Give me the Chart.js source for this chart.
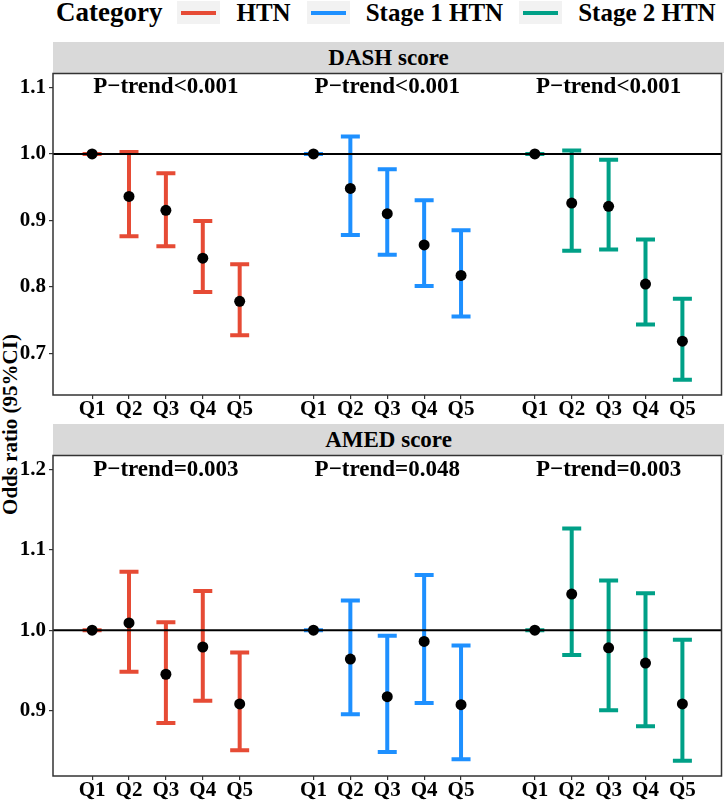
<!DOCTYPE html>
<html>
<head>
<meta charset="utf-8">
<script src="https://cdn.jsdelivr.net/npm/chart.js@4.4.0/dist/chart.umd.min.js"></script>
<style>
  body { margin: 0; background: #fff; }
  #wrap { position: relative; width: 727px; height: 801px; overflow: hidden;
          font-family: 'Liberation Serif', 'Times New Roman', serif; font-weight: bold; color: #000; }
  #legend { position: absolute; left: 56px; top: 0; height: 25px; display: flex; align-items: flex-start; }
  #legend .title { font-size: 27px; line-height: 25px; margin-right: 15px; }
  #legend .key { position: relative; width: 43px; height: 23px; margin-top: 1px; background: #f2f2f2; margin-right: 16px; }
  #legend .key i { position: absolute; left: 4px; right: 4px; top: 9.7px; height: 4px; }
  #legend .lab { font-size: 25px; line-height: 25px; margin-right: 16px; white-space: nowrap; }
  .strip { position: absolute; left: 53px; width: 671px; height: 31px; background: #d9d9d9;
           text-align: center; font-size: 23px; line-height: 31px; }
  #ytitle { position: absolute; width: 300px; height: 21px; left: -140.4px; top: 414px;
            font-size: 21px; line-height: 21px; text-align: center; transform: rotate(-90deg); white-space: nowrap; }
  canvas { position: absolute; left: 0; }
</style>
</head>
<body>
<div id="wrap">
  <div id="legend"><span class="title">Category</span></div>
  <div class="strip" style="top:42px">DASH score</div>
  <div class="strip" style="top:424px">AMED score</div>
  <div id="ytitle">Odds ratio (95%CI)</div>
  <canvas id="dash" width="727" height="355" style="top:68px"></canvas>
  <canvas id="amed" width="727" height="351" style="top:450px"></canvas>
</div>
<script>
// categories
const quintiles = ['Q1', 'Q2', 'Q3', 'Q4', 'Q5'];
const categories = ['HTN', 'Stage 1 HTN', 'Stage 2 HTN'];
const categoryColors = ['#E64B35', '#1E90FF', '#00A087'];

// DASH score: odds ratios and 95% CI, one row per category
const dashOR   = [[1.000, 0.936, 0.915, 0.843, 0.778],
                  [1.000, 0.948, 0.910, 0.863, 0.817],
                  [1.000, 0.926, 0.921, 0.804, 0.718]];
const dashLow  = [[1.000, 0.876, 0.861, 0.792, 0.727],
                  [1.000, 0.878, 0.848, 0.801, 0.755],
                  [1.000, 0.854, 0.856, 0.743, 0.660]];
const dashHigh = [[1.000, 1.003, 0.971, 0.899, 0.834],
                  [1.000, 1.026, 0.977, 0.930, 0.885],
                  [1.000, 1.005, 0.991, 0.871, 0.782]];
const dashTrend = ['P\u2212trend<0.001', 'P\u2212trend<0.001', 'P\u2212trend<0.001'];

// AMED score
const amedOR   = [[1.000, 1.009, 0.945, 0.979, 0.908],
                  [1.000, 0.964, 0.917, 0.986, 0.907],
                  [1.000, 1.045, 0.978, 0.959, 0.908]];
const amedLow  = [[1.000, 0.948, 0.884, 0.912, 0.850],
                  [1.000, 0.895, 0.848, 0.909, 0.839],
                  [1.000, 0.969, 0.900, 0.880, 0.837]];
const amedHigh = [[1.000, 1.073, 1.010, 1.049, 0.972],
                  [1.000, 1.037, 0.993, 1.069, 0.981],
                  [1.000, 1.127, 1.062, 1.046, 0.988]];
const amedTrend = ['P\u2212trend=0.003', 'P\u2212trend=0.048', 'P\u2212trend=0.003'];

// axes
const dashYTicks = [0.7, 0.8, 0.9, 1.0, 1.1];
const amedYTicks = [0.9, 1.0, 1.1, 1.2];
const dashYRange = [0.637, 1.121];
const amedYRange = [0.818, 1.218];
const dashTrendY = 1.1;
const amedTrendY = 1.2;
const refValue = 1.0;
const groupStep = 6;   // 5 quintiles + one empty slot between categories
const xRange = [-0.06, 18.06];

// legend
const legend = document.getElementById('legend');
categories.forEach((cat, i) => {
  const key = document.createElement('span');
  key.className = 'key';
  key.innerHTML = '<i style="background:' + categoryColors[i] + '"></i>';
  const lab = document.createElement('span');
  lab.className = 'lab';
  lab.textContent = cat;
  legend.appendChild(key);
  legend.appendChild(lab);
});

const tickFont = { family: "'Liberation Serif', 'Times New Roman', serif", weight: 'bold', size: 21, lineHeight: 1 };

// error bars, reference line, panel border and P-trend labels
const errorBarPlugin = {
  id: 'errorBars',
  beforeDatasetsDraw(chart, args, opts) {
    const { ctx, chartArea, scales: { x, y } } = chart;
    ctx.save();
    ctx.lineCap = 'butt';
    chart.data.datasets.forEach(ds => {
      ctx.strokeStyle = ds.barColor;
      ctx.lineWidth = 4;
      ds.data.forEach(p => {
        const px = x.getPixelForValue(p.x);
        const top = y.getPixelForValue(p.hi);
        const bot = y.getPixelForValue(p.lo);
        ctx.beginPath();
        ctx.moveTo(px, top); ctx.lineTo(px, bot);
        ctx.moveTo(px - 9.5, top); ctx.lineTo(px + 9.5, top);
        ctx.moveTo(px - 9.5, bot); ctx.lineTo(px + 9.5, bot);
        ctx.stroke();
      });
    });
    const ry = y.getPixelForValue(opts.ref);
    ctx.strokeStyle = '#000';
    ctx.lineWidth = 2;
    ctx.beginPath();
    ctx.moveTo(chartArea.left, ry);
    ctx.lineTo(chartArea.right, ry);
    ctx.stroke();
    ctx.restore();
  },
  afterDraw(chart, args, opts) {
    const { ctx, chartArea, scales: { x, y } } = chart;
    ctx.save();
    ctx.fillStyle = '#000';
    ctx.font = "bold 23px 'Liberation Serif', 'Times New Roman', serif";
    ctx.textAlign = 'center';
    ctx.textBaseline = 'middle';
    opts.trend.forEach((t, g) => {
      ctx.fillText(t, x.getPixelForValue(g * groupStep + 3), y.getPixelForValue(opts.trendY));
    });
    ctx.strokeStyle = '#333';
    ctx.lineWidth = 1.5;
    ctx.strokeRect(chartArea.left, chartArea.top, chartArea.right - chartArea.left, chartArea.bottom - chartArea.top);
    ctx.restore();
  }
};

function makePanel(id, orArr, lowArr, highArr, yTicks, yRange, trend, trendY, xAxisHeight) {
  const datasets = categories.map((cat, g) => ({
    label: cat,
    barColor: categoryColors[g],
    data: quintiles.map((q, i) => ({
      x: g * groupStep + i + 1, y: orArr[g][i], lo: lowArr[g][i], hi: highArr[g][i]
    })),
    backgroundColor: '#000',
    borderWidth: 0,
    pointRadius: 5.5,
    pointHoverRadius: 5.5
  }));
  const xTicks = datasets.flatMap(d => d.data.map(p => p.x));

  new Chart(document.getElementById(id), {
    type: 'scatter',
    data: { datasets },
    options: {
      responsive: false,
      animation: false,
      events: [],
      layout: { padding: { top: 5, right: 3, left: 0, bottom: 0 } },
      plugins: {
        legend: { display: false },
        tooltip: { enabled: false },
        errorBars: { ref: refValue, trend, trendY }
      },
      scales: {
        x: {
          type: 'linear',
          min: xRange[0],
          max: xRange[1],
          afterBuildTicks: s => { s.ticks = xTicks.map(v => ({ value: v })); },
          afterFit: s => { s.height = xAxisHeight; s.paddingLeft = 0; s.paddingRight = 0; },
          ticks: {
            callback: v => quintiles[(v - 1) % groupStep],
            font: tickFont, color: '#000', padding: 0,
            autoSkip: false, maxRotation: 0, minRotation: 0
          },
          grid: { drawOnChartArea: false, drawTicks: true, tickLength: 4, color: '#333', lineWidth: 1.2 },
          border: { display: false }
        },
        y: {
          min: yRange[0],
          max: yRange[1],
          afterBuildTicks: s => { s.ticks = yTicks.map(v => ({ value: v })); },
          afterFit: s => { s.width = 53; s.paddingTop = 0; s.paddingBottom = 0; },
          ticks: {
            callback: v => v.toFixed(1),
            font: tickFont, color: '#000', padding: 3
          },
          grid: { drawOnChartArea: false, drawTicks: true, tickLength: 4, color: '#333', lineWidth: 1.2 },
          border: { display: false }
        }
      }
    },
    plugins: [errorBarPlugin]
  });
}

makePanel('dash', dashOR, dashLow, dashHigh, dashYTicks, dashYRange, dashTrend, dashTrendY, 28);
makePanel('amed', amedOR, amedLow, amedHigh, amedYTicks, amedYRange, amedTrend, amedTrendY, 25);
</script>
</body>
</html>
